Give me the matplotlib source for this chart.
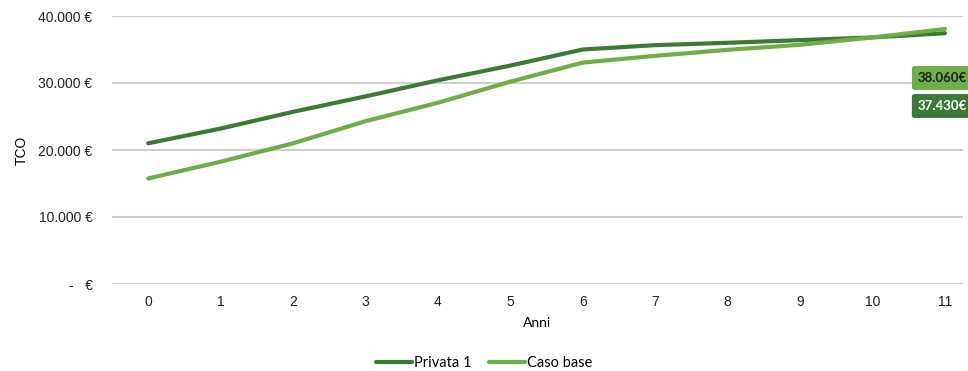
import matplotlib.pyplot as plt
from matplotlib.ticker import FuncFormatter

# anni e TCO
anni = list(range(12))
privata1 = [21000, 23200, 25700, 28000, 30400, 32600, 35000, 35650, 36000, 36400, 36800, 37430]
caso_base = [15750, 18250, 21000, 24300, 27050, 30200, 33050, 34050, 34950, 35700, 36800, 38060]
nomi = ["Privata 1", "Caso base"]
colori = ["#3A7A35", "#6EAD47"]

plt.rcParams['font.family'] = ['Liberation Sans', 'DejaVu Sans']

fig = plt.figure(figsize=(9.68, 3.71), dpi=100)
ax = fig.add_axes([112/968, 1-284/371, (963-112)/968, (284-16)/371])

for serie, nome, col in zip([privata1, caso_base], nomi, colori):
    ax.plot(anni, serie, color=col, linewidth=3, label=nome, solid_capstyle='round')

ax.set_xlim(-0.5, 11.25)
ax.set_ylim(0, 40000)
ax.set_yticks([0, 10000, 20000, 30000, 40000])
ax.set_xticks(anni)

def euro(v, pos):
    if v == 0:
        return "-   €"
    return f"{v:,.0f} €".replace(",", ".")

ax.yaxis.set_major_formatter(FuncFormatter(euro))
ax.grid(axis='y', color='#D0D0D0', linewidth=1.5)
ax.set_axisbelow(True)
for s in ax.spines.values():
    s.set_visible(False)
ax.tick_params(length=0, labelsize=10, colors='#222222', pad=8)
ax.tick_params(axis='y', pad=14)
ax.set_xlabel("Anni", fontsize=10, family=['Lato', 'DejaVu Sans'], labelpad=6)
ax.set_ylabel("TCO", fontsize=10, labelpad=7)

# etichette finali
fig.text(0.999, 1-78/371, f"{caso_base[-1]:,.0f}€".replace(",", "."), ha='right', va='center',
         fontsize=9.5, fontweight='bold', color='#222222', family=['Lato', 'DejaVu Sans'],
         bbox=dict(boxstyle='round,pad=0.45,rounding_size=0.2', fc=colori[1], ec='none'))
fig.text(0.999, 1-106/371, f"{privata1[-1]:,.0f}€".replace(",", "."), ha='right', va='center',
         fontsize=9.5, fontweight='bold', color='white', family=['Lato', 'DejaVu Sans'],
         bbox=dict(boxstyle='round,pad=0.45,rounding_size=0.2', fc=colori[0], ec='none'))

fig.legend(loc='center', bbox_to_anchor=(0.5, 1-363/371), ncol=2, frameon=False,
           prop={'family': ['Lato', 'DejaVu Sans'], 'size': 10.5},
           handlelength=2.5, handletextpad=0.1, columnspacing=1.2)

fig.savefig("out.png", dpi=100)
